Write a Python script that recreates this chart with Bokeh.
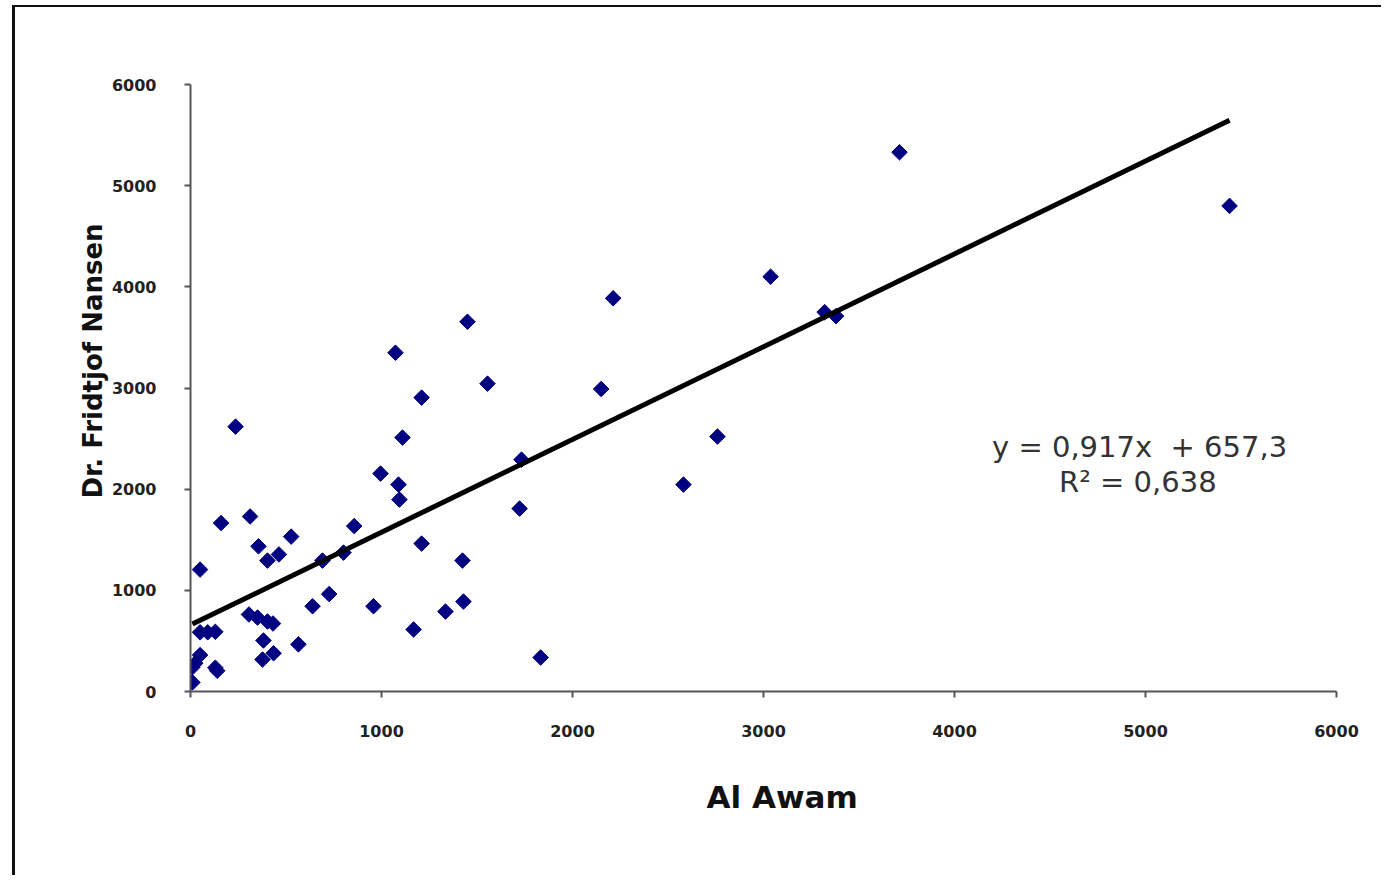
import math
from bokeh.plotting import figure
from bokeh.models import Label, FixedTicker, Title
from bokeh.embed import file_html
from bokeh.resources import INLINE

# Data (Al Awam vs Dr. Fridtjof Nansen)
al_awam = [10, 10, 25, 50, 50, 50, 90, 130, 130, 140,
           236, 160, 312, 356, 403, 463, 527, 306, 351, 403,
           432, 382, 565, 377, 435, 639, 726, 691, 801, 857,
           958, 995, 1089, 1094, 1110, 1210, 1210, 1168, 1335, 1424,
           1429, 1555, 1733, 1723, 1833, 2150, 1073, 1450, 2213, 2759,
           2581, 3037, 3320, 3380, 3712, 5440]
nansen = [90, 240, 280, 360, 1205, 585, 585, 590, 235, 205,
          2618, 1665, 1730, 1435, 1294, 1355, 1531, 761, 731, 692,
          672, 504, 466, 316, 378, 843, 963, 1294, 1373, 1635,
          843, 2154, 2045, 1897, 2510, 2905, 1462, 613, 790, 1294,
          889, 3043, 2292, 1808, 336, 2990, 3349, 3655, 3887, 2520,
          2045, 4100, 3750, 3710, 5330, 4800]

slope = 0.917
intercept = 657.3
r_squared = 0.638
ticks = [0, 1000, 2000, 3000, 4000, 5000, 6000]

x_label = "Al Awam"
y_label = "Dr. Fridtjof Nansen"
eq_text = "y = 0,917x\u00a0 + 657,3"
r2_text = "R\u00b2 = 0,638"

W, H = 1369, 870
p = figure(width=W, height=H, output_backend="svg", toolbar_location=None,
           x_range=(0, 6000), y_range=(0, 6000),
           min_border_left=175, min_border_right=48,
           min_border_top=77, min_border_bottom=186)
p.outline_line_color = None
p.xgrid.visible = False
p.ygrid.visible = False
p.background_fill_color = "white"
p.border_fill_color = "white"
p.styles = {"border-left": "3px solid #111111", "border-top": "2px solid #111111",
            "margin-left": "12px", "margin-top": "5px"}

for ax in (p.xaxis[0], p.yaxis[0]):
    ax.ticker = FixedTicker(ticks=ticks)
    ax.axis_line_color = "#555555"
    ax.axis_line_width = 2
    ax.major_tick_line_color = "#555555"
    ax.major_tick_line_width = 2
    ax.major_tick_out = 6
    ax.major_tick_in = 0
    ax.minor_tick_out = 0
    ax.minor_tick_in = 0
    ax.major_label_text_font = "DejaVu Sans"
    ax.major_label_text_font_style = "bold"
    ax.major_label_text_font_size = "16px"
    ax.major_label_text_color = "#222222"

p.xaxis.major_label_standoff = 27
p.yaxis.major_label_standoff = 28

p.scatter(al_awam, nansen, marker="square", size=11, angle=math.pi / 4,
          fill_color="#000080", line_color="#000080", line_width=1)

x0, x1 = min(al_awam), max(al_awam)
p.line([x0, x1], [slope * x0 + intercept, slope * x1 + intercept],
       line_color="black", line_width=5)

p.add_layout(Label(x=4969, y=2420, text=eq_text, text_align="center",
                   text_baseline="middle", text_font="DejaVu Sans",
                   text_font_size="29px", text_color="#333333"))
p.add_layout(Label(x=4960, y=2070, text=r2_text, text_align="center",
                   text_baseline="middle", text_font="DejaVu Sans",
                   text_font_size="29px", text_color="#333333"))

# axis titles, placed as in the reference (slightly off the frame centre)
xt = Title(text=x_label, align="left", offset=516, vertical_align="top",
           standoff=78, text_font="DejaVu Sans", text_font_style="bold",
           text_font_size="31px", text_color="#111111")
p.add_layout(xt, "below")
yt = Title(text=y_label, align="left", offset=193, vertical_align="bottom",
           standoff=2, text_font="DejaVu Sans", text_font_style="bold",
           text_font_size="26px", text_color="#111111")
p.add_layout(yt, "left")

open("out.html", "w").write(file_html(p, INLINE))
